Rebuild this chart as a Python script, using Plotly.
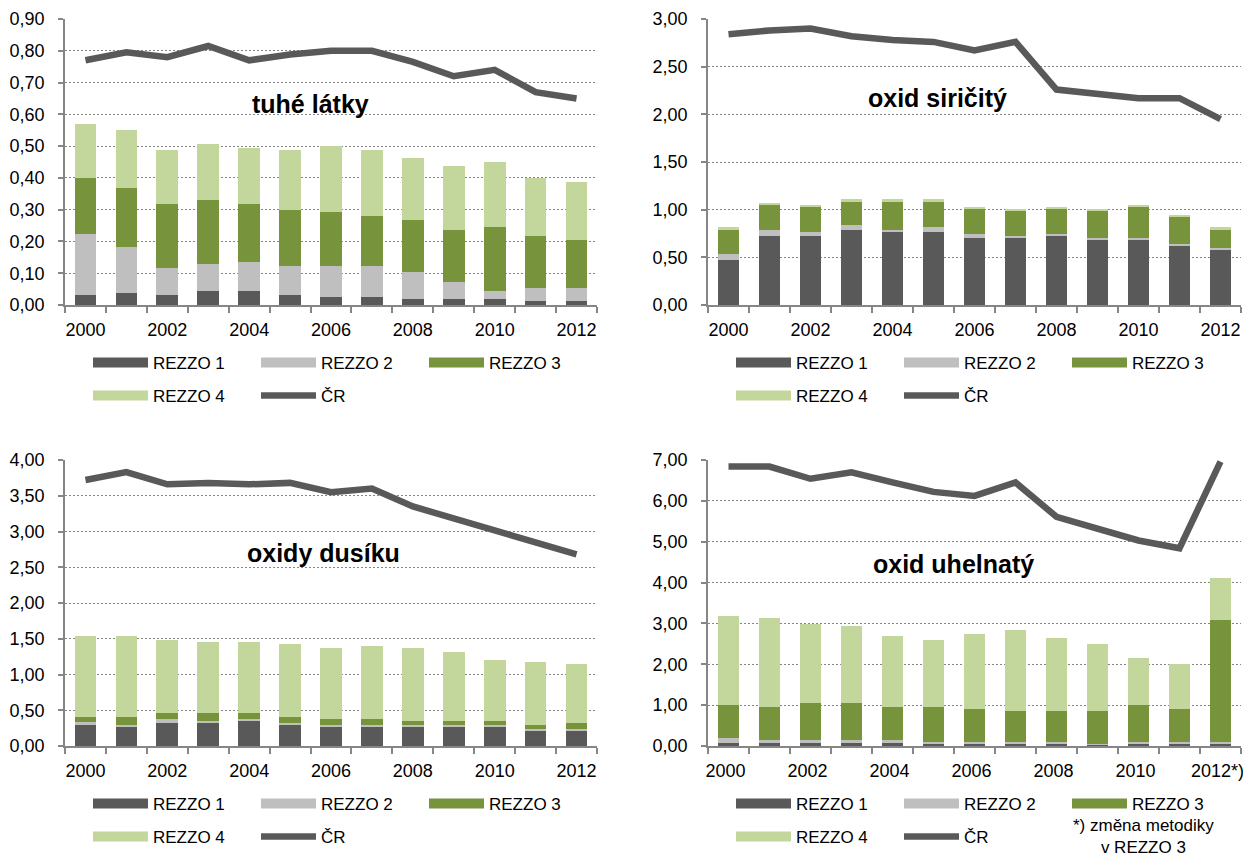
import plotly.graph_objects as go

years = list(range(2000, 2013))
year_labels = ["2000", "2002", "2004", "2006", "2008", "2010", "2012"]
year_labels_co = ["2000", "2002", "2004", "2006", "2008", "2010", "2012*)"]
series_names = ["REZZO 1", "REZZO 2", "REZZO 3", "REZZO 4"]
line_name = "ČR"

# tuhé látky
tl_r1 = [0.033, 0.039, 0.033, 0.045, 0.045, 0.033, 0.026, 0.026, 0.020, 0.020, 0.020, 0.014, 0.014]
tl_r2 = [0.190, 0.145, 0.084, 0.083, 0.090, 0.089, 0.096, 0.096, 0.083, 0.051, 0.025, 0.038, 0.038]
tl_r3 = [0.176, 0.183, 0.200, 0.201, 0.182, 0.176, 0.170, 0.157, 0.163, 0.164, 0.202, 0.164, 0.151]
tl_r4 = [0.170, 0.185, 0.170, 0.177, 0.178, 0.189, 0.209, 0.208, 0.196, 0.202, 0.202, 0.183, 0.183]
tl_cr = [0.770, 0.795, 0.780, 0.815, 0.770, 0.788, 0.800, 0.800, 0.765, 0.720, 0.740, 0.670, 0.650]

# oxid siřičitý
so_r1 = [0.470, 0.724, 0.724, 0.788, 0.767, 0.767, 0.703, 0.703, 0.724, 0.682, 0.682, 0.618, 0.576]
so_r2 = [0.067, 0.066, 0.046, 0.046, 0.025, 0.046, 0.046, 0.025, 0.025, 0.025, 0.025, 0.025, 0.024]
so_r3 = [0.258, 0.256, 0.255, 0.254, 0.298, 0.275, 0.255, 0.258, 0.255, 0.279, 0.318, 0.276, 0.195]
so_r4 = [0.018, 0.021, 0.021, 0.020, 0.020, 0.020, 0.021, 0.021, 0.021, 0.021, 0.021, 0.021, 0.018]
so_cr = [2.84, 2.88, 2.90, 2.82, 2.78, 2.76, 2.67, 2.76, 2.26, 2.21, 2.17, 2.17, 1.95]

# oxidy dusíku
no_r1 = [0.296, 0.269, 0.324, 0.324, 0.352, 0.296, 0.269, 0.269, 0.269, 0.269, 0.269, 0.213, 0.213]
no_r2 = [0.033, 0.027, 0.056, 0.028, 0.028, 0.028, 0.027, 0.027, 0.027, 0.027, 0.027, 0.028, 0.028]
no_r3 = [0.074, 0.107, 0.083, 0.111, 0.083, 0.079, 0.084, 0.084, 0.056, 0.056, 0.056, 0.055, 0.083]
no_r4 = [1.140, 1.140, 1.024, 0.996, 0.996, 1.028, 0.995, 1.023, 1.023, 0.967, 0.855, 0.883, 0.827]
no_cr = [3.72, 3.83, 3.66, 3.68, 3.66, 3.68, 3.55, 3.60, 3.35, 3.18, 3.01, 2.85, 2.68]

# oxid uhelnatý
co_r1 = [0.085, 0.085, 0.085, 0.085, 0.085, 0.045, 0.045, 0.045, 0.045, 0.026, 0.045, 0.045, 0.045]
co_r2 = [0.110, 0.060, 0.060, 0.060, 0.060, 0.050, 0.050, 0.050, 0.050, 0.017, 0.050, 0.050, 0.050]
co_r3 = [0.810, 0.810, 0.915, 0.915, 0.810, 0.860, 0.810, 0.760, 0.760, 0.810, 0.910, 0.810, 2.980]
co_r4 = [2.180, 2.180, 1.930, 1.880, 1.740, 1.640, 1.840, 1.990, 1.790, 1.650, 1.150, 1.100, 1.040]
co_cr = [6.84, 6.84, 6.54, 6.70, 6.45, 6.22, 6.12, 6.45, 5.61, 5.32, 5.03, 4.84, 6.96]

titles = ["tuhé látky", "oxid siričitý", "oxidy dusíku", "oxid uhelnatý"]
footnote = "*) změna metodiky<br>v REZZO 3"

bar_colors = ["#595959", "#BFBFBF", "#77933C", "#C3D69B"]
line_color = "#595959"
axis_color = "#868686"
FONT = "Liberation Sans, Arial, sans-serif"

W, H = 1243, 854

panels = [
    dict(data=[tl_r1, tl_r2, tl_r3, tl_r4], cr=tl_cr, ymax=0.9, dtick=0.1, px=(65, 597), py=(19, 305),
         title_pos=(310, 104), labels=year_labels, leg_rows=(363, 396), lshift=0),
    dict(data=[so_r1, so_r2, so_r3, so_r4], cr=so_cr, ymax=3.0, dtick=0.5, px=(708, 1241), py=(19, 305),
         title_pos=(938, 98), labels=year_labels, leg_rows=(363, 396), lshift=0),
    dict(data=[no_r1, no_r2, no_r3, no_r4], cr=no_cr, ymax=4.0, dtick=0.5, px=(65, 597), py=(460, 746),
         title_pos=(323, 553), labels=year_labels, leg_rows=(804, 837), lshift=0),
    dict(data=[co_r1, co_r2, co_r3, co_r4], cr=co_cr, ymax=7.0, dtick=1.0, px=(708, 1241), py=(460, 746),
         title_pos=(953, 564), labels=year_labels_co, leg_rows=(804, 837), lshift=-3),
]

fig = go.Figure()
layout = dict(
    template="none",
    width=W, height=H, margin=dict(l=0, r=0, t=0, b=0, autoexpand=False),
    paper_bgcolor="white", plot_bgcolor="white",
    barmode="stack", bargap=0.47,
    separators=", ",
    font=dict(family=FONT, size=17, color="#000000"),
    annotations=[],
)

for i, p in enumerate(panels):
    n = i + 1
    xa = "x" if n == 1 else f"x{n}"
    ya = "y" if n == 1 else f"y{n}"
    legA = "legend" if n == 1 else f"legend{2 * n - 1}"
    legB = f"legend{2 * n}"
    for k, (name, vals) in enumerate(zip(series_names, p["data"])):
        grp = f"p{n}_{k}"
        fig.add_trace(go.Bar(x=years, y=vals, name=name, marker=dict(color=bar_colors[k], line=dict(width=0)),
                             xaxis=xa, yaxis=ya, showlegend=False, legendgroup=grp))
    # legend entries (wide rectangles like the original)
    for k, name in enumerate(series_names):
        grp = f"p{n}_{k}"
        fig.add_trace(go.Scatter(x=[None], y=[None], mode="lines", name=name,
                                 line=dict(color=bar_colors[k], width=10),
                                 xaxis=xa, yaxis=ya, legendgroup=grp,
                                 legend=legA if k < 3 else legB, hoverinfo="skip"))
    fig.add_trace(go.Scatter(x=years, y=p["cr"], mode="lines", name=line_name,
                             line=dict(color=line_color, width=6.5),
                             xaxis=xa, yaxis=ya, legend=legB))

    x0, x1 = p["px"]
    y0, y1 = p["py"]
    xkey = "xaxis" if n == 1 else f"xaxis{n}"
    ykey = "yaxis" if n == 1 else f"yaxis{n}"
    layout[xkey] = dict(
        domain=[x0 / W, x1 / W], anchor=ya, range=[1999.5, 2012.5], automargin=False,
        tickmode="array", tickvals=years[::2], ticktext=p["labels"],
        ticks="", showgrid=False, zeroline=False,
        showline=True, linecolor=axis_color, linewidth=1.5,
        tickfont=dict(family=FONT, size=18, color="#000000"),
        ticklabelstandoff=8, ticklabelshift=p["lshift"], ticklabeloverflow="allow",
        minor=dict(tickmode="array", tickvals=[1999.5 + j for j in range(14)],
                   ticks="outside", ticklen=6, tickwidth=1.5, tickcolor=axis_color, showgrid=False),
    )
    layout[ykey] = dict(
        domain=[1 - y1 / H, 1 - y0 / H], anchor=xa, range=[0, p["ymax"]], automargin=False,
        tickmode="linear", tick0=0, dtick=p["dtick"], tickformat=".2f",
        ticks="outside", ticklen=5, tickwidth=1.5, tickcolor=axis_color,
        showline=True, linecolor=axis_color, linewidth=1.5,
        showgrid=True, gridcolor=axis_color, gridwidth=1.3, griddash="2px,2px",
        zeroline=False,
        tickfont=dict(family=FONT, size=18, color="#000000"),
        ticklabelstandoff=10,
    )
    leg_common = dict(orientation="h", xanchor="left", yanchor="middle",
                      x=(x0 + 23) / W, bgcolor="rgba(0,0,0,0)", borderwidth=0,
                      itemwidth=55, entrywidth=98, entrywidthmode="pixels",
                      font=dict(family=FONT, size=17, color="#000000"),
                      itemclick="toggle", tracegroupgap=0)
    layout[legA] = dict(leg_common, y=1 - p["leg_rows"][0] / H)
    layout[legB] = dict(leg_common, y=1 - p["leg_rows"][1] / H)

    tx, ty = p["title_pos"]
    layout["annotations"].append(dict(
        text=f"<b>{titles[i]}</b>", x=tx / W, y=1 - ty / H, xref="paper", yref="paper",
        xanchor="center", yanchor="middle", showarrow=False,
        font=dict(family=FONT, size=25, color="#000000")))

layout["annotations"].append(dict(
    text=footnote, x=1143 / W, y=1 - 814 / H, xref="paper", yref="paper",
    xanchor="center", yanchor="top", align="center", showarrow=False,
    font=dict(family=FONT, size=17, color="#000000")))

fig.update_layout(**layout)
fig.write_html("out.html", config={"displayModeBar": False},
               post_script="document.body.style.margin='0';document.body.style.overflow='hidden';")
